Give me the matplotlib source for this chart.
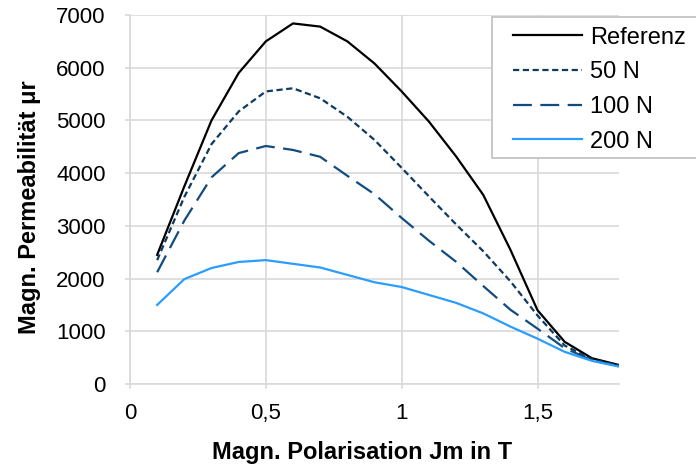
import matplotlib.pyplot as plt
from matplotlib.patches import Rectangle
from matplotlib.ticker import FuncFormatter

plt.rcParams.update({
    'font.family': ['Liberation Sans', 'DejaVu Sans'],
    'font.size': 16,
})

# Daten
jm = [0.1, 0.2, 0.3, 0.4, 0.5, 0.6, 0.7, 0.8, 0.9, 1.0, 1.1, 1.2, 1.3, 1.4, 1.5, 1.6, 1.7, 1.8]
referenz = [2450, 3750, 5000, 5900, 6500, 6840, 6780, 6500, 6080, 5550, 4980, 4320, 3590, 2550, 1400, 800, 490, 360]
n50 = [2350, 3550, 4550, 5170, 5550, 5610, 5420, 5070, 4630, 4100, 3560, 3030, 2520, 1950, 1300, 730, 470, 350]
n100 = [2120, 3100, 3920, 4380, 4515, 4440, 4310, 3950, 3600, 3150, 2720, 2320, 1860, 1410, 1050, 680, 450, 340]
n200 = [1500, 1990, 2200, 2315, 2350, 2280, 2210, 2070, 1930, 1840, 1690, 1540, 1340, 1090, 860, 610, 440, 330]
labels = ['Referenz', '50 N', '100 N', '200 N']

W, H = 696, 466
fig = plt.figure(figsize=(W / 100, H / 100), dpi=100)
ax = fig.add_axes([130 / W, 1 - 384 / H, (619 - 130) / W, (384 - 15) / H])

lw = 1.6
ax.plot(jm, referenz, color='black', lw=lw, label=labels[0])
ax.plot(jm, n50, color='#0F3A5F', lw=lw, dashes=(2.8, 1.6), label=labels[1])
ax.plot(jm, n100, color='#124C7E', lw=lw, dashes=(8.5, 3.8), label=labels[2])
ax.plot(jm, n200, color='#2A9DFF', lw=lw, label=labels[3])

ax.set_xlim(0, 1.8)
ax.set_ylim(0, 7000)
ax.set_xticks([0, 0.5, 1, 1.5])
ax.set_yticks(range(0, 7001, 1000))
ax.xaxis.set_major_formatter(FuncFormatter(lambda v, p: f'{v:g}'.replace('.', ',')))

grid_c = '#D9D9D9'
ax.grid(True, color=grid_c, lw=1.2)
ax.set_axisbelow(True)
for s in ['top', 'right']:
    ax.spines[s].set_visible(False)
for s in ['left', 'bottom']:
    ax.spines[s].set_color(grid_c)
    ax.spines[s].set_linewidth(1.2)
ax.tick_params(color=grid_c, length=3.6, width=1.2, labelcolor='black')
ax.tick_params(axis='y', pad=14)
ax.tick_params(axis='x', pad=10)

ax.set_xlabel('Magn. Polarisation Jm in T', fontweight='bold', fontsize=17)
ax.xaxis.set_label_coords(0.474, -0.155)
ax.set_ylabel('Magn. Permeabilität μr', fontweight='bold', fontsize=17)
ax.yaxis.set_label_coords(-0.181, 0.48)

# Legendenrahmen (rechts leicht abgeschnitten wie im Original)
fig.patches.append(Rectangle((492 / W, 1 - 158 / H), 220 / W, 141 / H,
                             transform=fig.transFigure, facecolor='white',
                             edgecolor='#BFBFBF', lw=1.2, zorder=2))
leg = fig.legend(loc='upper left', bbox_to_anchor=(513 / W, 1 - 26.5 / H),
                 frameon=False, fontsize=17, handlelength=2.92,
                 handletextpad=0.34, labelspacing=0.54,
                 borderaxespad=0, borderpad=0)
leg.set_zorder(3)

fig.savefig('out.png', dpi=100)
